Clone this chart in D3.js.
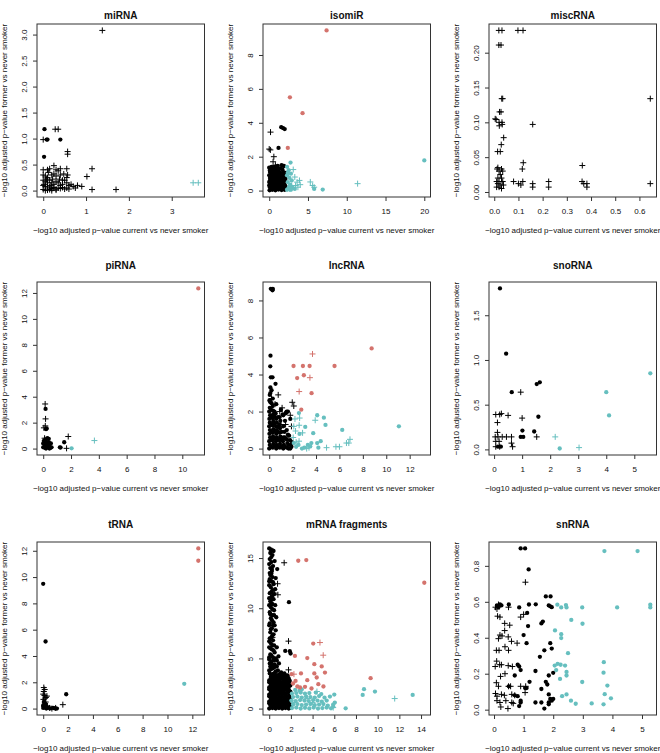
<!DOCTYPE html>
<html><head><meta charset="utf-8">
<script src="https://cdn.jsdelivr.net/npm/d3@7"></script>
<style>body{margin:0;background:#fff}svg{display:block}</style>
</head><body><svg id="c" width="660" height="753"></svg>
<script>
// ---------- miRNA ----------
const miRNA_xlim = [0, 3.62], miRNA_ylim = [0, 3.08];
const miRNA_xticks = ["0","1","2","3"], miRNA_yticks = ["0.0","0.5","1.0","1.5","2.0","2.5","3.0"];
const miRNA_dotK = [[0.03,1.18],[0.08,0.98],[0.1,0.98],[0.4,0.98],[0.02,0.65]];
const miRNA_plusK = [[1.38,3.08],[0.0,0.98],[0.28,1.18],[0.35,1.18],[0.57,0.75],[0.57,0.7],[1.02,0.27],[1.14,0.42],[1.14,0.02],[1.7,0.02],[0.8,0.1],[0.75,0.05],
 [0.0,0.4],[0.1,0.4],[0.15,0.42],[0.25,0.48],[0.3,0.4],[0.35,0.38],[0.4,0.42],[0.55,0.42],[0.57,0.3],[0.55,0.25],[0.5,0.2],[0.55,0.15],[0.6,0.1],[0.65,0.12],[0.7,0.08],
 [0.0,0.3],[0.05,0.28],[0.1,0.25],[0.2,0.3],[0.25,0.32],[0.3,0.28],[0.4,0.3],[0.45,0.2],[0.0,0.2],[0.05,0.18],[0.1,0.15],[0.15,0.2],[0.2,0.15],[0.25,0.12],[0.3,0.18],
 [0.35,0.15],[0.4,0.1],[0.45,0.12],[0.0,0.1],[0.05,0.08],[0.1,0.05],[0.15,0.07],[0.2,0.04],[0.25,0.06],[0.3,0.03],[0.35,0.05],[0.4,0.04],[0.45,0.06],[0.5,0.03],
 [0.55,0.05],[0.6,0.03],[0.0,0.02],[0.05,0.0],[0.1,0.01],[0.15,0.02],[0.2,0.0],[0.3,0.01],[0.02,0.12],[0.08,0.22],[0.12,0.35],[0.18,0.1],[0.22,0.22],[0.38,0.22],[0.48,0.32],[0.9,0.08]];
const miRNA_plusC = [[3.5,0.15],[3.62,0.15]];

// ---------- isomiR ----------
const isomiR_xlim = [0, 20], isomiR_ylim = [0, 9.45];
const isomiR_xticks = ["0","5","10","15","20"], isomiR_yticks = ["0","2","4","6","8"];
const isomiR_dotK = [[1.55,3.74],[1.8,3.68],[2.0,3.63],[1.2,2.52],
 [0.05,0.02],[0.4,0.05],[0.8,0.02],[1.2,0.06],[1.6,0.03],[2.0,0.05],[0.1,0.2],[0.5,0.25],[0.9,0.18],[1.3,0.22],[1.7,0.2],[2.1,0.25],
 [0.2,0.4],[0.6,0.45],[1.0,0.38],[1.4,0.42],[1.8,0.4],[0.0,0.5],[0.1,0.6],[0.5,0.65],[0.9,0.6],[1.3,0.62],[1.7,0.58],[2.1,0.7],
 [0.3,0.8],[0.7,0.85],[1.1,0.8],[1.5,0.82],[1.9,0.9],[0.0,0.9],[0.2,1.0],[0.6,1.05],[1.0,1.0],[1.4,1.05],[1.8,1.1],
 [0.1,1.2],[0.5,1.25],[0.9,1.2],[1.3,1.3],[1.6,1.5],[1.9,1.45],[0.3,1.4],[0.0,1.35],[0.7,1.4],[1.1,1.45],[2.1,1.05],[2.0,0.6],
 [0.3,0.1],[0.7,0.12],[1.1,0.1],[1.5,0.14],[1.9,0.12],[0.0,0.3],[0.4,0.32],[0.8,0.3],[1.2,0.3],[1.6,0.32],[2.0,0.35],[0.3,0.55],[0.7,0.55],
 [1.1,0.5],[1.5,0.5],[1.9,0.55],[0.1,0.75],[0.5,0.75],[0.9,0.72],[1.3,0.75],[1.7,0.75],[0.4,0.92],[0.8,0.95],[1.2,0.92],[1.6,0.95],[2.0,0.95],
 [0.1,1.1],[0.5,1.12],[0.9,1.1],[1.2,1.15],[1.7,1.25],[0.6,1.35],[1.0,1.32],[1.5,1.3]];
const isomiR_plusK = [[0.17,3.45],[0.0,2.45],[0.15,2.4],[0.6,2.0],[0.5,1.7],[0.3,1.1],[0.8,1.5]];
const isomiR_dotC = [[20,1.78],[5.8,0.1],[6.9,0.06],[2.75,1.65],[2.3,1.4],[2.5,1.2],[2.8,1.0],[2.3,0.9],[2.6,0.75],[2.9,0.6],[2.4,0.5],
 [2.7,0.35],[3.0,0.2],[2.5,0.15],[2.8,0.05],[2.3,0.05],[3.3,0.1],[2.4,1.05],[2.6,0.25]];
const isomiR_plusC = [[11.4,0.41],[5.3,0.51],[5.6,0.3],[3.6,0.5],[3.9,0.6],[3.4,0.3],[3.7,0.2],[3.1,1.24],[3.3,0.8],[4.0,0.35],[2.9,0.3],[2.6,0.1],[5.8,0.2]];
const isomiR_dotR = [[7.4,9.45],[2.67,5.5],[4.3,4.57],[2.4,2.52]];

// ---------- miscRNA ----------
const miscRNA_xlim = [0.004, 0.645], miscRNA_ylim = [0.002, 0.232];
const miscRNA_xticks = ["0.0","0.1","0.2","0.3","0.4","0.5","0.6"], miscRNA_yticks = ["0.00","0.05","0.10","0.15","0.20"];
const miscRNA_plusK = [[0.019,0.232],[0.032,0.232],[0.098,0.232],[0.119,0.232],[0.019,0.211],[0.028,0.211],[0.031,0.134],[0.035,0.134],[0.645,0.134],
 [0.022,0.115],[0.028,0.115],[0.004,0.105],[0.008,0.104],[0.02,0.1],[0.032,0.1],[0.021,0.095],[0.033,0.097],[0.039,0.078],[0.029,0.068],[0.014,0.058],
 [0.025,0.058],[0.159,0.097],[0.364,0.038],[0.12,0.042],[0.116,0.033],[0.08,0.015],[0.1,0.012],[0.118,0.015],[0.11,0.01],[0.159,0.012],[0.159,0.007],
 [0.225,0.015],[0.225,0.007],[0.363,0.015],[0.37,0.012],[0.383,0.012],[0.383,0.007],[0.645,0.012],
 [0.015,0.035],[0.03,0.033],[0.02,0.03],[0.025,0.025],[0.015,0.02],[0.03,0.02],[0.01,0.015],[0.02,0.015],[0.035,0.015],[0.015,0.012],[0.028,0.01],
 [0.038,0.01],[0.01,0.007],[0.02,0.007],[0.03,0.005],[0.035,0.03],[0.012,0.033]];

// ---------- piRNA ----------
const piRNA_xlim = [0, 11.15], piRNA_ylim = [0, 12.35];
const piRNA_xticks = ["0","2","4","6","8","10"], piRNA_yticks = ["0","2","4","6","8","10","12"];
const piRNA_dotK = [[0.17,3.06],[0.25,1.55],[0.2,1.5],[1.51,0.49],[1.2,0.1],[1.25,0.08],[0.0,0.1],[0.1,0.3],[0.05,0.6],[0.15,0.7],[0.3,0.8],[0.4,0.75],
 [0.2,0.45],[0.35,0.35],[0.45,0.2],[0.5,0.05],[0.3,0.1],[0.15,0.05],[0.0,0.4],[0.25,0.2],[0.4,0.5],[0.55,0.4],[0.6,0.1],[0.1,0.55],[0.45,0.0],[0.2,0.0]];
const piRNA_plusK = [[0.14,3.44],[0.17,2.29],[0.05,1.6],[0.15,1.75],[1.8,0.93],[1.68,0.02],[0.1,0.8],[0.3,0.5]];
const piRNA_dotC = [[2.04,0.02]];
const piRNA_plusC = [[3.68,0.62]];
const piRNA_dotR = [[11.15,12.35]];

// ---------- lncRNA ----------
const lncRNA_xlim = [0, 13.25], lncRNA_ylim = [0, 8.65];
const lncRNA_xticks = ["0","2","4","6","8","10","12"], lncRNA_yticks = ["0","2","4","6","8"];
const lncRNA_dotK = [[0.14,8.63],[0.31,8.62],[0.28,8.55],[0.11,5.02],[0.09,4.44],[0.14,3.85],[0.28,3.85],[0.54,3.5],[0.1,3.3],[0.2,3.15],[0.05,2.9],
 [0.3,2.7],[0.1,2.5],[0.6,2.4],[1.0,2.1],[1.5,2.0],[1.4,1.9],[1.2,1.8],[0.9,1.7],[1.8,1.6],
 [0.0,0.0],[0.05,0.2],[0.0,0.4],[0.08,0.6],[0.02,0.8],[0.06,1.0],[0.0,1.2],[0.05,1.4],[0.02,1.6],[0.08,1.8],[0.0,2.0],[0.05,2.2],[0.02,2.6],[0.1,3.0],
 [0.3,0.05],[0.35,0.25],[0.28,0.45],[0.33,0.65],[0.3,0.85],[0.36,1.05],[0.3,1.25],[0.34,1.45],[0.3,1.65],[0.35,1.85],[0.32,2.05],[0.3,2.3],
 [0.6,0.0],[0.62,0.2],[0.58,0.4],[0.65,0.6],[0.6,0.8],[0.62,1.0],[0.58,1.2],[0.65,1.4],[0.6,1.6],[0.55,1.9],
 [0.9,0.05],[0.92,0.25],[0.88,0.45],[0.95,0.65],[0.9,0.85],[0.92,1.1],[0.88,1.3],[0.95,1.5],
 [1.2,0.0],[1.25,0.2],[1.18,0.4],[1.22,0.6],[1.3,0.9],[1.2,1.2],[1.35,1.5],[1.15,1.85],
 [1.5,0.05],[1.55,0.3],[1.48,0.5],[1.6,0.75],[1.5,1.0],[1.6,2.0],[1.45,1.95],
 [1.8,0.0],[1.85,0.2],[1.78,0.45],[1.9,0.1],[1.95,0.35],[1.7,0.7],
 [0.15,0.1],[0.45,0.15],[0.75,0.1],[0.15,0.5],[0.45,0.55],[0.75,0.5],[0.15,0.9],[0.45,0.95],[0.75,0.9],[0.15,1.3],[0.45,1.35],[0.75,1.2],
 [0.15,1.7],[0.45,1.75],[0.75,1.7],[0.15,2.1],[0.45,2.0],[0.2,2.45],[1.05,0.1],[1.05,0.5],[1.35,0.1],[1.35,0.6],[1.65,0.2],[1.05,0.9],[1.65,0.0]];
const lncRNA_plusK = [[0.77,2.9],[1.97,2.5],[1.8,1.8],[2.1,2.3],[0.5,2.4],[0.9,2.0],[1.1,2.2],[0.2,2.7],[1.4,1.3],[1.0,1.3],[0.7,1.0],[1.6,0.5],[1.2,0.5],[0.4,1.6],[1.9,1.2]];
const lncRNA_dotC = [[2.54,1.92],[4.1,1.8],[4.67,1.67],[4.81,1.28],[3.08,1.17],[6.24,1.01],[11.08,1.2],[2.59,0.79],[3.76,0.83],[3.6,0.3],[4.1,0.3],
 [4.4,0.4],[4.2,0.05],[3.0,0.05],[2.8,0.0],[3.5,0.12],[2.3,0.1],[2.1,0.3],[2.5,0.2],[3.3,0.2]];
const lncRNA_plusC = [[2.2,1.6],[2.6,1.65],[3.93,1.53],[2.56,1.26],[2.25,0.95],[2.85,0.85],[2.55,0.4],[2.3,0.35],[6.9,0.5],[6.8,0.3],[6.6,0.3],
 [6.0,0.1],[5.7,0.1],[4.9,0.05],[3.2,0.0],[3.4,0.05],[2.05,0.6],[2.1,1.2]];
const lncRNA_dotR = [[2.08,4.46],[2.88,4.46],[3.45,4.46],[5.58,4.46],[8.75,5.41],[2.39,3.81],[2.96,3.96],[3.62,2.99],[2.74,2.1]];
const lncRNA_plusR = [[3.7,5.11],[3.48,3.83],[2.56,3.08]];

// ---------- snoRNA ----------
const snoRNA_xlim = [0.04, 5.57], snoRNA_ylim = [0.009, 1.80];
const snoRNA_xticks = ["0","1","2","3","4","5"], snoRNA_yticks = ["0.0","0.5","1.0","1.5"];
const snoRNA_dotK = [[0.21,1.80],[0.43,1.07],[0.63,0.64],[1.52,0.73],[1.63,0.75],[1.58,0.365],[1.01,0.21],[0.95,0.14],[1.04,0.14],[1.43,0.2],[0.14,0.03],[0.24,0.03]];
const snoRNA_plusK = [[0.95,0.64],[1.0,0.35],[0.06,0.39],[0.2,0.39],[0.26,0.40],[0.5,0.38],[0.12,0.3],[0.04,0.14],[0.14,0.14],[0.29,0.14],[0.44,0.14],
 [0.62,0.14],[1.52,0.14],[0.06,0.09],[0.18,0.09],[0.62,0.07],[0.66,0.03],[0.06,0.03],[0.2,0.03],[0.12,0.19]];
const snoRNA_dotC = [[4.0,0.64],[4.1,0.38],[5.57,0.85],[2.34,0.01]];
const snoRNA_plusC = [[2.18,0.14],[3.03,0.02]];

// ---------- tRNA ----------
const tRNA_xlim = [0, 12.48], tRNA_ylim = [0, 12.18];
const tRNA_xticks = ["0","2","4","6","8","10","12"], tRNA_yticks = ["0","2","4","6","8","10","12"];
const tRNA_dotK = [[0.0,9.49],[0.19,5.1],[1.85,1.09],[0.0,0.05],[0.1,0.3],[0.2,0.2],[0.3,0.1],[0.6,0.02],[0.9,0.02],[1.0,0.02],[1.1,0.0],[0.05,0.5],
 [0.15,0.4],[0.25,0.0],[0.4,0.05],[0.8,0.05],[0.0,0.25]];
const tRNA_plusK = [[1.58,0.3],[0.05,1.6],[0.12,1.45],[0.05,1.3],[0.0,1.1],[0.1,1.0],[0.3,0.95],[0.22,0.85],[0.02,0.7],[0.15,0.8],[0.35,0.2],[0.5,0.05],
 [0.7,0.0],[1.0,0.05],[0.2,0.5],[0.08,0.15]];
const tRNA_dotC = [[11.35,1.88]];
const tRNA_dotR = [[12.48,12.18],[12.48,11.24]];

// ---------- mRNA fragments ----------
const mRNA_xlim = [0, 14.3], mRNA_ylim = [0, 15.96];
const mRNA_xticks = ["0","2","4","6","8","10","12","14"], mRNA_yticks = ["0","5","10","15"];
const mRNA_dotK = [[0.0,15.96],[0.15,15.85],[0.3,15.75],[0.4,15.7],[0.25,13.9],[0.74,13.9],[0.05,13.5],[0.2,13.45],[0.0,12.7],[0.2,12.7],[1.82,10.6],
 [1.48,5.75],[1.9,5.72],[1.97,5.49],[0.85,5.2],[0.9,4.5],[0.7,4.8],
 [0.1,15.5],[0.3,15.3],[0.05,14.9],[0.2,14.6],[0.35,14.2],[0.1,14.0],[0.3,13.1],[0.05,12.9],[0.4,12.4],[0.15,12.1],[0.3,11.8],[0.05,11.5],[0.25,11.2],
 [0.4,10.9],[0.1,10.7],[0.3,10.4],[0.15,10.1],[0.45,9.8],[0.05,9.6],[0.3,9.3],[0.15,9.0],[0.4,8.6],[0.0,8.3],[0.25,8.0],[0.6,7.8],[0.1,7.6],[0.3,7.3],
 [0.05,7.0],[0.35,6.8],[0.15,6.5],[0.45,6.3],[0.0,6.1],[0.25,5.9],[0.5,5.6],[0.1,5.4],[0.35,5.1],[0.0,4.9],[0.2,4.7],[0.5,4.4],[0.1,4.2],[0.3,4.0],
 [0.0,3.8],[0.6,3.7],[0.45,9.3],[0.55,11.9],[0.2,10.9],[0.5,8.3],
 [0.2,15.1],[0.0,14.4],[0.25,13.7],[0.1,13.3],[0.35,12.6],[0.0,12.3],[0.2,11.6],[0.45,11.4],[0.0,11.0],[0.2,10.5],[0.0,10.3],[0.3,9.9],[0.1,9.4],
 [0.25,8.8],[0.05,8.5],[0.35,8.3],[0.15,7.9],[0.4,7.4],[0.2,7.1],[0.0,6.7],[0.3,6.3],[0.1,6.0],[0.4,5.8],[0.2,5.3],[0.0,5.1],[0.4,4.8],[0.05,4.5],
 [0.25,4.35],[0.45,4.1],[0.15,3.9],[0.7,4.2],[0.8,3.8],[0.6,5.0],[0.7,6.1],[0.65,9.1],[0.55,10.3],[0.6,13.0],[0.5,14.7],
 [0.0,0.0],[0.3,0.05],[0.6,0.0],[0.9,0.05],[1.2,0.0],[1.5,0.05],[1.8,0.0],[2.0,0.1],
 [0.1,0.35],[0.4,0.3],[0.75,0.4],[1.05,0.35],[1.35,0.3],[1.65,0.4],[1.95,0.35],
 [0.0,0.7],[0.3,0.75],[0.6,0.7],[0.9,0.7],[1.2,0.75],[1.5,0.7],[1.8,0.75],
 [0.15,1.05],[0.45,1.1],[0.75,1.0],[1.05,1.05],[1.35,1.1],[1.65,1.0],[1.95,1.05],
 [0.0,1.4],[0.3,1.45],[0.6,1.4],[0.9,1.4],[1.2,1.45],[1.5,1.4],[1.85,1.4],
 [0.15,1.75],[0.45,1.8],[0.75,1.75],[1.05,1.8],[1.35,1.75],[1.7,1.8],[1.95,1.7],
 [0.0,2.1],[0.3,2.15],[0.6,2.1],[0.9,2.1],[1.2,2.15],[1.5,2.1],[1.8,2.2],
 [0.15,2.45],[0.45,2.5],[0.75,2.45],[1.05,2.5],[1.35,2.4],[1.65,2.5],
 [0.0,2.8],[0.3,2.85],[0.6,2.8],[0.95,2.85],[1.3,2.8],[1.6,2.9],[1.9,2.75],
 [0.15,3.15],[0.45,3.2],[0.8,3.1],[1.2,3.2],[1.5,3.3],[1.8,3.0],
 [0.05,3.5],[0.35,3.45],[0.9,3.4],[1.4,3.5],[1.7,3.3],
 [0.15,0.18],[0.45,0.2],[0.75,0.15],[1.05,0.2],[1.35,0.15],[1.65,0.2],[1.9,0.18],
 [0.0,0.52],[0.3,0.55],[0.6,0.5],[0.9,0.55],[1.2,0.5],[1.5,0.55],[1.8,0.5],
 [0.15,0.88],[0.45,0.9],[0.75,0.85],[1.05,0.9],[1.35,0.85],[1.65,0.9],[1.95,0.88],
 [0.0,1.22],[0.3,1.25],[0.6,1.2],[0.9,1.25],[1.2,1.2],[1.5,1.25],[1.8,1.22],
 [0.15,1.58],[0.45,1.6],[0.75,1.55],[1.05,1.6],[1.35,1.58],[1.65,1.6],[1.9,1.55],
 [0.0,1.92],[0.3,1.95],[0.6,1.9],[0.9,1.95],[1.2,1.92],[1.5,1.95],[1.8,1.9],
 [0.15,2.3],[0.45,2.3],[0.75,2.28],[1.05,2.3],[1.35,2.25],[1.65,2.3],[1.95,2.3],
 [0.0,2.62],[0.3,2.65],[0.6,2.62],[0.9,2.65],[1.2,2.6],[1.5,2.65],[1.8,2.6],
 [0.15,3.0],[0.45,3.0],[0.75,2.95],[1.1,3.0],[1.4,3.0],[1.7,3.1],
 [0.2,3.3],[0.6,3.3],[1.0,3.25],[1.25,3.35],[0.55,3.6],[1.1,3.6]];
const mRNA_plusK = [[1.38,14.53],[0.77,12.44],[0.8,11.34],[1.78,6.72],[1.78,3.86],[0.5,11.5],[0.3,7.1],[1.0,3.0],[1.4,2.6]];
const mRNA_dotC = [[8.74,1.93],[8.62,1.36],[9.75,1.7],[13.23,1.36],[7.05,0.03],[6.0,1.4],[5.9,0.2],[6.05,0.6],
 [2.1,0.05],[2.5,0.1],[2.9,0.0],[3.3,0.08],[3.7,0.02],[4.1,0.1],[4.5,0.0],[4.9,0.05],[5.3,0.1],[5.7,0.03],
 [2.2,0.4],[2.6,0.45],[3.0,0.35],[3.4,0.4],[3.8,0.45],[4.2,0.35],[4.6,0.4],[5.0,0.45],[5.4,0.3],[5.9,0.4],
 [2.05,0.8],[2.45,0.75],[2.85,0.85],[3.25,0.8],[3.65,0.75],[4.05,0.85],[4.45,0.8],[4.85,0.7],[5.3,0.8],
 [2.2,1.15],[2.6,1.2],[3.0,1.1],[3.4,1.2],[3.8,1.15],[4.2,1.1],[4.6,1.25],[5.1,1.1],[5.6,1.2],
 [2.1,1.5],[2.5,1.55],[2.9,1.6],[3.3,1.5],[3.7,1.55],[4.3,1.6],[4.8,1.45],[2.4,1.85],[3.0,1.9],[2.8,1.8]];
const mRNA_plusC = [[11.57,1.0],[4.4,1.7],[3.5,1.0],[5.9,0.1],[2.3,0.6],[4.0,0.6]];
const mRNA_dotR = [[14.3,12.54],[2.68,14.73],[3.42,14.8],[4.06,6.48],[2.37,5.25],[3.51,5.03],[4.16,4.43],[4.84,4.2],[5.14,3.59],[2.07,3.43],[2.93,3.5],
 [4.16,3.5],[4.38,3.1],[2.43,2.76],[3.51,2.83],[2.84,2.1],[3.3,2.17],[2.2,2.5],[4.53,2.43],[5.0,2.2],[9.35,3.03],[3.9,2.0],[2.6,2.2]];
const mRNA_plusR = [[4.68,6.58],[4.98,5.32],[2.28,3.43]];

// ---------- snRNA ----------
const snRNA_xlim = [0.04, 5.28], snRNA_ylim = [0.006, 0.897];
const snRNA_xticks = ["0","1","2","3","4","5"], snRNA_yticks = ["0.0","0.2","0.4","0.6","0.8"];
const snRNA_dotK = [[0.9,0.897],[1.05,0.897],[1.17,0.78],[1.75,0.63],[1.91,0.63],[1.85,0.58],[1.95,0.57],[1.9,0.575],[1.41,0.586],[1.18,0.585],[0.5,0.585],
 [0.85,0.569],[1.12,0.538],[1.65,0.49],[1.6,0.48],[1.15,0.465],[1.0,0.415],[1.1,0.37],[1.9,0.37],[1.95,0.34],[1.55,0.294],[1.7,0.33],[0.8,0.25],
 [0.85,0.24],[0.9,0.22],[1.4,0.215],[2.0,0.205],[1.85,0.19],[0.7,0.19],[1.2,0.155],[1.75,0.155],[1.8,0.14],[1.05,0.12],[1.1,0.12],[0.5,0.13],[0.7,0.08],
 [0.8,0.075],[0.9,0.05],[0.9,0.04],[0.85,0.02],[1.6,0.115],[1.85,0.085],[1.9,0.06],[1.95,0.05],[2.0,0.06],[1.4,0.04],[1.6,0.04],[1.7,0.006],[1.85,0.04],
 [1.85,0.03],[0.2,0.585],[0.25,0.58],[0.1,0.58],[0.15,0.57]];
const snRNA_plusK = [[1.06,0.709],[0.1,0.56],[0.05,0.57],[0.15,0.585],[0.49,0.57],[0.2,0.515],[0.12,0.52],[0.36,0.48],[0.53,0.47],[0.9,0.515],[1.0,0.53],
 [0.36,0.44],[0.27,0.41],[0.2,0.415],[0.15,0.395],[0.48,0.405],[0.59,0.38],[0.78,0.37],[0.37,0.35],[0.49,0.33],[0.08,0.33],[0.17,0.33],[0.09,0.27],
 [0.19,0.25],[0.04,0.24],[0.25,0.25],[0.48,0.245],[0.62,0.24],[0.22,0.185],[0.37,0.2],[0.08,0.15],[0.15,0.13],[0.49,0.13],[0.56,0.13],[0.9,0.13],
 [1.07,0.13],[1.05,0.095],[0.05,0.09],[0.1,0.075],[0.25,0.085],[0.35,0.08],[0.6,0.085],[0.7,0.08],[0.1,0.05],[0.2,0.04],[0.4,0.05],[0.6,0.04],
 [0.65,0.035],[0.23,0.015],[0.47,0.006]];
const snRNA_dotC = [[3.73,0.882],[4.85,0.882],[5.28,0.584],[5.28,0.569],[4.16,0.569],[2.14,0.584],[2.27,0.569],[2.43,0.582],[2.45,0.569],[2.98,0.569],
 [2.61,0.499],[2.99,0.478],[2.06,0.441],[2.27,0.42],[2.27,0.398],[2.5,0.314],[3.71,0.264],[2.05,0.245],[2.15,0.255],[2.25,0.25],[2.4,0.245],[2.45,0.21],
 [2.45,0.19],[2.1,0.22],[2.23,0.171],[3.7,0.206],[2.98,0.154],[3.83,0.134],[3.74,0.086],[3.95,0.063],[2.45,0.085],[2.3,0.075],[2.6,0.05],[2.76,0.033],
 [3.3,0.035],[3.7,0.03]];

// ---------- styles ----------
const BLACK = "#000000", RED = "#D4736D", CYAN = "#66BFBF";
const xLabel = "\u2212log10 adjusted p\u2212value current vs never smoker";
const yLabel = "\u2212log10 adjusted p\u2212value former vs never smoker";

const S = (pts, shape, color) => ({pts, shape, color});
const panels = [
 {title:"miRNA", xlim:miRNA_xlim, ylim:miRNA_ylim, xt:miRNA_xticks, yt:miRNA_yticks,
  series:[S(miRNA_dotK,"dot",BLACK),S(miRNA_plusK,"plus",BLACK),S(miRNA_plusC,"plus",CYAN)]},
 {title:"isomiR", xlim:isomiR_xlim, ylim:isomiR_ylim, xt:isomiR_xticks, yt:isomiR_yticks,
  series:[S(isomiR_dotK,"dot",BLACK),S(isomiR_plusK,"plus",BLACK),S(isomiR_dotC,"dot",CYAN),S(isomiR_plusC,"plus",CYAN),S(isomiR_dotR,"dot",RED)]},
 {title:"miscRNA", xlim:miscRNA_xlim, ylim:miscRNA_ylim, xt:miscRNA_xticks, yt:miscRNA_yticks,
  series:[S(miscRNA_plusK,"plus",BLACK)]},
 {title:"piRNA", xlim:piRNA_xlim, ylim:piRNA_ylim, xt:piRNA_xticks, yt:piRNA_yticks,
  series:[S(piRNA_dotK,"dot",BLACK),S(piRNA_plusK,"plus",BLACK),S(piRNA_dotC,"dot",CYAN),S(piRNA_plusC,"plus",CYAN),S(piRNA_dotR,"dot",RED)]},
 {title:"lncRNA", xlim:lncRNA_xlim, ylim:lncRNA_ylim, xt:lncRNA_xticks, yt:lncRNA_yticks,
  series:[S(lncRNA_dotK,"dot",BLACK),S(lncRNA_plusK,"plus",BLACK),S(lncRNA_dotC,"dot",CYAN),S(lncRNA_plusC,"plus",CYAN),S(lncRNA_dotR,"dot",RED),S(lncRNA_plusR,"plus",RED)]},
 {title:"snoRNA", xlim:snoRNA_xlim, ylim:snoRNA_ylim, xt:snoRNA_xticks, yt:snoRNA_yticks,
  series:[S(snoRNA_dotK,"dot",BLACK),S(snoRNA_plusK,"plus",BLACK),S(snoRNA_dotC,"dot",CYAN),S(snoRNA_plusC,"plus",CYAN)]},
 {title:"tRNA", xlim:tRNA_xlim, ylim:tRNA_ylim, xt:tRNA_xticks, yt:tRNA_yticks,
  series:[S(tRNA_dotK,"dot",BLACK),S(tRNA_plusK,"plus",BLACK),S(tRNA_dotC,"dot",CYAN),S(tRNA_dotR,"dot",RED)]},
 {title:"mRNA fragments", xlim:mRNA_xlim, ylim:mRNA_ylim, xt:mRNA_xticks, yt:mRNA_yticks,
  series:[S(mRNA_dotK,"dot",BLACK),S(mRNA_plusK,"plus",BLACK),S(mRNA_dotC,"dot",CYAN),S(mRNA_plusC,"plus",CYAN),S(mRNA_dotR,"dot",RED),S(mRNA_plusR,"plus",RED)]},
 {title:"snRNA", xlim:snRNA_xlim, ylim:snRNA_ylim, xt:snRNA_xticks, yt:snRNA_yticks,
  series:[S(snRNA_dotK,"dot",BLACK),S(snRNA_plusK,"plus",BLACK),S(snRNA_dotC,"dot",CYAN)]}
];

// ---------- layout ----------
const colLeft = [37, 263, 489], rowTop = [24, 282, 542], titleBase = [19, 269, 528];
const W = 167.5, H = 173;
const FONT = "'Liberation Sans', Arial, Helvetica, sans-serif";
const svg = d3.select("#c");
svg.append("rect").attr("width",660).attr("height",753).attr("fill","#fff");

const pad = lim => { const r = lim[1]-lim[0]; return [lim[0]-0.04*r, lim[1]+0.04*r]; };

panels.forEach((p, i) => {
  const c = i % 3, r = Math.floor(i / 3);
  const L = colLeft[c], T = rowTop[r];
  const x = d3.scaleLinear().domain(pad(p.xlim)).range([0, W]);
  const y = d3.scaleLinear().domain(pad(p.ylim)).range([H, 0]);
  const g = svg.append("g").attr("transform", `translate(${L},${T})`);

  p.series.forEach(s => {
    if (s.shape === "dot") {
      g.append("g").selectAll("circle").data(s.pts).join("circle")
        .attr("cx", d => x(d[0])).attr("cy", d => y(d[1])).attr("r", 2.15).attr("fill", s.color);
    } else {
      const h = 3;
      g.append("g").selectAll("path").data(s.pts).join("path")
        .attr("d", d => { const px = x(d[0]), py = y(d[1]);
          return `M${px-h},${py}H${px+h}M${px},${py-h}V${py+h}`; })
        .attr("stroke", s.color).attr("stroke-width", 1).attr("fill", "none");
    }
  });

  g.append("rect").attr("x",0).attr("y",0).attr("width",W).attr("height",H)
    .attr("fill","none").attr("stroke","#333").attr("stroke-width",1);

  const xa = d3.axisBottom(x).tickValues(p.xt.map(Number)).tickSize(4).tickPadding(5)
    .tickFormat((d, k) => p.xt[k]);
  const gx = g.append("g").attr("transform", `translate(0,${H})`).call(xa);
  gx.select(".domain").remove();
  gx.selectAll("line").attr("stroke","#333");
  gx.selectAll("text").attr("font-family",FONT).attr("font-size",8).attr("fill","#111")
    .attr("dy", null).attr("y", 17);

  const ya = d3.axisLeft(y).tickValues(p.yt.map(Number)).tickSize(4).tickFormat((d, k) => p.yt[k]);
  const gy = g.append("g").call(ya);
  gy.select(".domain").remove();
  gy.selectAll("line").attr("stroke","#333");
  gy.selectAll("text").attr("font-family",FONT).attr("font-size",8).attr("fill","#111")
    .attr("x", null).attr("dy", null).attr("text-anchor","middle")
    .attr("transform", "translate(-10,0) rotate(-90)");

  svg.append("text").attr("x", L + W/2).attr("y", titleBase[r]).attr("text-anchor","middle")
    .attr("font-family",FONT).attr("font-weight","bold").attr("font-size",10).attr("fill","#111").text(p.title);
  svg.append("text").attr("x", L + W/2).attr("y", T + H + 36).attr("text-anchor","middle")
    .attr("font-family",FONT).attr("font-size",8).attr("fill","#111").text(xLabel);
  svg.append("text").attr("transform", `translate(${L-30},${T + H/2}) rotate(-90)`).attr("text-anchor","middle")
    .attr("font-family",FONT).attr("font-size",8).attr("fill","#111").text(yLabel);
});
</script></body></html>
